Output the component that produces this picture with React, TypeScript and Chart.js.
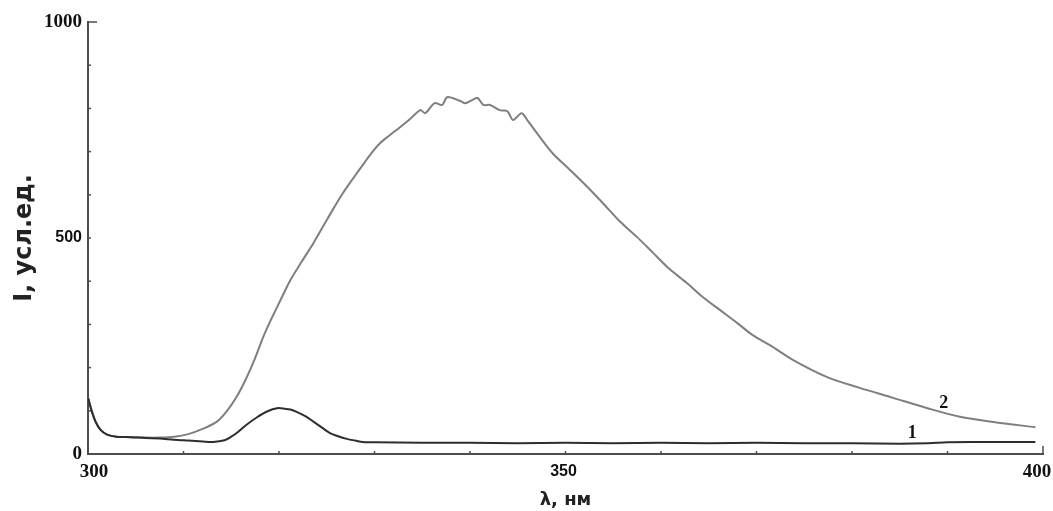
import { useEffect, useRef } from 'react';
import { Chart, registerables } from 'chart.js';

Chart.register(...registerables);

// Curve 1 (dark)
const lambda1 = [300, 300.4, 300.8, 301.3, 302, 303, 304.5, 306, 307.5, 309, 310.5, 312, 313.1, 314.3, 315, 315.6, 316.5, 317.7, 318.8, 319.8, 320.6, 321.2, 321.9, 322.8, 323.6, 324.5, 325.3, 326.2, 327.1, 328, 328.8, 330, 335, 340, 345, 350, 355, 360, 365, 370, 375, 380, 385, 388, 390, 395, 399.2];
const intensity1 = [130, 98, 74, 56, 45, 40, 39, 37, 36, 33, 31, 29, 28, 32, 40, 49, 66, 85, 99, 106, 105, 103, 97, 87, 75, 61, 49, 41, 35, 31, 28, 27, 26, 26, 25, 26, 25, 26, 25, 26, 25, 25, 24, 25, 27, 28, 28];

// Curve 2 (grey)
const lambda2 = [300, 300.4, 300.8, 301.3, 302, 303, 304.5, 306, 307.5, 309, 310.5, 312, 313.5, 314.5, 315.5, 316.5, 317.5, 318.3, 319.1, 319.8, 320.5, 321.2, 322.4, 323.6, 324.7, 325.7, 326.7, 327.7, 328.8, 329.8, 330.6, 331.6, 332.7, 333.7, 334.8, 335.3, 336.3, 337.1, 337.6, 339, 339.5, 340.2, 340.8, 341.4, 342.1, 343.1, 343.9, 344.5, 345.4, 346, 347.3, 348.7, 350.5, 352.3, 353.9, 355.7, 357.5, 359.2, 360.9, 362.7, 364.4, 366.2, 368, 369.6, 371.4, 373.8, 377.4, 380.8, 384.3, 387.9, 391.3, 394.8, 399.2];
const intensity2 = [132, 100, 75, 57, 45, 40, 39, 38, 38, 40, 46, 58, 75, 98, 130, 172, 222, 268, 308, 340, 372, 403, 446, 488, 530, 568, 604, 636, 670, 700, 720, 738, 757, 775, 796, 789, 812, 808, 826, 817, 812, 819, 824, 808, 808, 796, 794, 773, 789, 773, 734, 695, 657, 618, 581, 538, 502, 465, 428, 396, 363, 333, 303, 275, 252, 218, 178, 153, 130, 106, 86, 74, 62];

const xTickLabels = [300, 350, 400];
const yTickLabels = [0, 500, 1000];
const seriesNames = ['1', '2'];

export default function App() {
  const ref = useRef<HTMLCanvasElement>(null);

  useEffect(() => {
    if (!ref.current) return;
    const axisColor = '#4d4d4d';
    const serifFont = { family: '"Liberation Serif"', size: 19, weight: 'bold' as const };
    const sansFont = { family: '"Liberation Sans"', size: 16, weight: 'bold' as const };

    const inwardTicks = {
      id: 'inwardTicks',
      afterDraw(chart: any) {
        const { ctx, scales } = chart;
        const x = scales.x;
        const y = scales.y;
        const bottom = y.getPixelForValue(0);
        const left = x.getPixelForValue(300);
        ctx.save();
        ctx.strokeStyle = axisColor;
        ctx.lineWidth = 1.5;
        for (let v = 310; v <= 400; v += 10) {
          const px = x.getPixelForValue(v);
          const len = v === 400 ? 8 : 3;
          ctx.beginPath();
          ctx.moveTo(px, bottom);
          ctx.lineTo(px, bottom - len);
          ctx.stroke();
        }
        for (let v = 100; v <= 1000; v += 100) {
          const py = y.getPixelForValue(v);
          const len = v === 1000 ? 9 : 3;
          ctx.beginPath();
          ctx.moveTo(left, py);
          ctx.lineTo(left + len, py);
          ctx.stroke();
        }
        // x tick labels, placed from the x scale
        const shifts: Record<number, number> = { 300: 6, 350: -2, 400: -6 };
        ctx.fillStyle = '#111';
        ctx.textAlign = 'center';
        ctx.textBaseline = 'middle';
        xTickLabels.forEach((v) => {
          const f = v === 350 ? sansFont : serifFont;
          ctx.font = `${f.weight} ${f.size}px ${f.family}`;
          ctx.fillText(String(v), x.getPixelForValue(v) + (shifts[v] || 0), bottom + 18);
        });
        ctx.restore();
      },
    };

    const curveLabels = {
      id: 'curveLabels',
      afterDatasetsDraw(chart: any) {
        const { ctx, scales } = chart;
        const anchors: [number, number][] = [[386.3, 47], [389.6, 118]];
        ctx.save();
        ctx.fillStyle = '#111';
        ctx.font = 'bold 18px "Liberation Serif"';
        ctx.textAlign = 'center';
        ctx.textBaseline = 'middle';
        seriesNames.forEach((name, i) => {
          ctx.fillText(name, scales.x.getPixelForValue(anchors[i][0]), scales.y.getPixelForValue(anchors[i][1]));
        });
        ctx.restore();
      },
    };

    const chart = new Chart(ref.current, {
      type: 'line',
      data: {
        datasets: [
          {
            label: seriesNames[0],
            data: lambda1.map((l, i) => ({ x: l, y: intensity1[i] })),
            borderColor: '#2e2e2e',
            borderWidth: 2,
            pointRadius: 0,
            tension: 0.3,
            fill: false,
          },
          {
            label: seriesNames[1],
            data: lambda2.map((l, i) => ({ x: l, y: intensity2[i] })),
            borderColor: '#7f7f7f',
            borderWidth: 2,
            pointRadius: 0,
            tension: 0.3,
            fill: false,
          },
        ],
      },
      options: {
        animation: false,
        responsive: true,
        maintainAspectRatio: false,
        layout: { padding: { top: 22, right: 10, left: 0, bottom: 0 } },
        plugins: {
          legend: { display: false },
          tooltip: { enabled: false },
        },
        scales: {
          x: {
            type: 'linear',
            min: 300,
            max: 400,
            grid: { display: false, drawTicks: false },
            border: { display: true, color: axisColor, width: 2 },
            ticks: { display: false, stepSize: 50 },
            title: {
              display: true,
              text: 'λ, нм',
              color: '#222',
              font: { family: '"DejaVu Sans"', size: 18, weight: 'bold' },
              padding: 0,
            },
            afterFit: (s: any) => {
              s.height = 57;
              s.paddingLeft = 0;
              s.paddingRight = 0;
            },
          },
          y: {
            type: 'linear',
            min: 0,
            max: 1000,
            grid: { display: false, drawTicks: false },
            border: { display: true, color: axisColor, width: 2 },
            ticks: {
              stepSize: 500,
              autoSkip: false,
              padding: 6,
              color: '#111',
              callback: (v: any) => (yTickLabels.includes(Number(v)) ? String(v) : ''),
              font: (c: any) => (c.tick && c.tick.value === 500 ? sansFont : serifFont),
            },
            title: {
              display: true,
              text: 'I, усл.ед.',
              color: '#222',
              font: { family: '"DejaVu Sans"', size: 24, weight: 'bold' },
              padding: { top: 10, bottom: 0 },
            },
            afterFit: (s: any) => {
              s.width = 88;
              s.paddingTop = 0;
              s.paddingBottom = 0;
            },
          },
        },
      },
      plugins: [inwardTicks, curveLabels],
    });

    return () => chart.destroy();
  }, []);

  return (
    <div style={{ position: 'fixed', left: 0, top: 0, width: 1053, height: 511, background: '#fff' }}>
      <canvas ref={ref} />
    </div>
  );
}
